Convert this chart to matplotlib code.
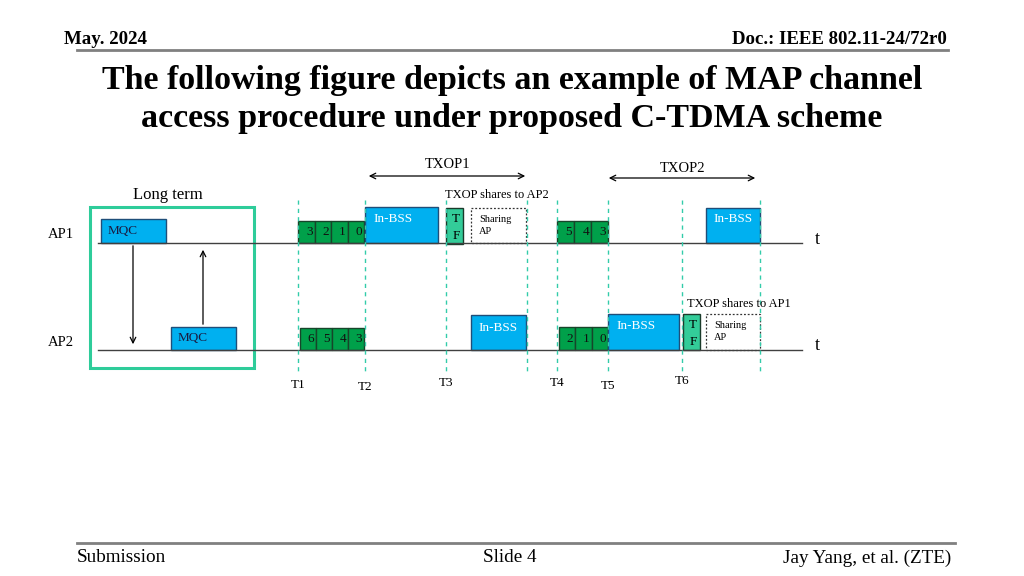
import matplotlib
matplotlib.use("Agg")
import matplotlib.pyplot as plt
from matplotlib.patches import Rectangle

plt.rcParams['font.family'] = ['Liberation Serif', 'DejaVu Serif']

# ---- data (diagram coordinates in slide pixels) ----
header_left = "May. 2024"
header_right = "Doc.: IEEE 802.11-24/72r0"
title_lines = ["The following figure depicts an example of MAP channel",
               "access procedure under proposed C-TDMA scheme"]
footer = ["Submission", "Slide 4", "Jay Yang, et al. (ZTE)"]

t_labels = ["T1", "T2", "T3", "T4", "T5", "T6"]
t_pos = [298, 365, 446, 557, 608, 682]
t_label_y = [385, 387, 383, 383, 386, 381]
extra_dashes = [527, 760]

ap1_backoff_a = ["3", "2", "1", "0"]
ap1_backoff_b = ["5", "4", "3"]
ap2_backoff_a = ["6", "5", "4", "3"]
ap2_backoff_b = ["2", "1", "0"]

BLUE = '#00B0F0'
BLUE_EDGE = '#1F4E79'
GREEN = '#00A04A'
GREEN_EDGE = '#17452A'
TF = '#33CC99'
DASH = '#33CCAA'

fig = plt.figure(figsize=(10.24, 5.76), dpi=100)
ax = fig.add_axes([0, 0, 1, 1])
ax.set_xlim(0, 1024)
ax.set_ylim(576, 0)
ax.axis('off')

# header
ax.text(64, 40, header_left, fontsize=13.6, fontweight='bold', ha='left', va='center')
ax.text(947, 40, header_right, fontsize=13.6, fontweight='bold', ha='right', va='center')
ax.plot([77, 948], [50, 50], color='#808080', lw=2)
ax.text(512, 80, title_lines[0], fontsize=24.5, fontweight='bold', ha='center', va='center')
ax.text(512, 118, title_lines[1], fontsize=24.5, fontweight='bold', ha='center', va='center')

# footer
ax.plot([77, 955], [543, 543], color='#808080', lw=2)
ax.text(77, 557, footer[0], fontsize=13.8, ha='left', va='center')
ax.text(510, 557, footer[1], fontsize=13.8, ha='center', va='center')
ax.text(951, 558, footer[2], fontsize=13.8, ha='right', va='center')

# baselines
y1, y2 = 243, 350
for y, lab in [(y1, "AP1"), (y2, "AP2")]:
    ax.plot([98, 802], [y, y], color='#404040', lw=1)
    ax.text(48, y - 8, lab, fontsize=10.5, ha='left', va='center')
    ax.text(815, y - 4, "t", fontsize=13, ha='left', va='center')

# dashed verticals
for x in t_pos + extra_dashes:
    ax.plot([x, x], [200, 373], color=DASH, lw=1, ls=(0, (3, 3)))
for lab, x, y in zip(t_labels, t_pos, t_label_y):
    ax.text(x, y, lab, fontsize=9.5, ha='center', va='center')

# long-term box
ax.add_patch(Rectangle((90, 207), 164, 161, fill=False, ec='#2ECC9A', lw=2.2))
ax.text(168, 195, "Long term", fontsize=12, ha='center', va='center')

def box(x0, x1, ytop, ybot, fc, ec, lw=1, ls='-', fill=True):
    ax.add_patch(Rectangle((x0, ytop), x1 - x0, ybot - ytop, fc=fc if fill else 'none',
                           ec=ec, lw=lw, ls=ls, fill=fill))

# MQC boxes
box(101, 166, 219, y1, BLUE, BLUE_EDGE)
ax.text(108, 231, "MQC", fontsize=9.5, ha='left', va='center', color='#1a1a40')
box(171, 236, 327, y2, BLUE, BLUE_EDGE)
ax.text(178, 338, "MQC", fontsize=9.5, ha='left', va='center', color='#1a1a40')
ax.annotate("", xy=(133, 347), xytext=(133, y1),
            arrowprops=dict(arrowstyle='->', color='black', lw=0.9))
ax.annotate("", xy=(203, 247), xytext=(203, 327),
            arrowprops=dict(arrowstyle='->', color='black', lw=0.9))

def backoff(labels, x0, x1, ytop, ybot):
    w = (x1 - x0) / len(labels)
    for i, lab in enumerate(labels):
        xa = x0 + i * w
        box(xa, xa + w, ytop, ybot, GREEN, GREEN_EDGE)
        ax.text(xa + w - 2, (ytop + ybot) / 2, lab, fontsize=9.5, ha='right', va='center', color='#111111')

backoff(ap1_backoff_a, 298, 364, 221, y1)
backoff(ap1_backoff_b, 557, 608, 221, y1)
backoff(ap2_backoff_a, 300, 364, 328, y2)
backoff(ap2_backoff_b, 559, 608, 327, y2)

# In-BSS boxes
box(365, 438, 207, y1, BLUE, BLUE_EDGE)
ax.text(373, 219, "In-BSS", fontsize=9.5, ha='left', va='center', color='white')
box(706, 760, 208, y1, BLUE, BLUE_EDGE)
ax.text(733, 219, "In-BSS", fontsize=9.5, ha='center', va='center', color='white')
box(471, 526, 315, y2, BLUE, BLUE_EDGE)
ax.text(498, 328, "In-BSS", fontsize=9.5, ha='center', va='center', color='white')
box(608, 679, 314, y2, BLUE, BLUE_EDGE)
ax.text(616, 326, "In-BSS", fontsize=9.5, ha='left', va='center', color='white')

# TF boxes
for x0, ytop, yb in [(446, 208, 244), (683, 314, y2)]:
    box(x0, x0 + 17, ytop, yb, TF, '#1a3a2a')
    ax.text(x0 + 10, ytop + 11, "T", fontsize=9.5, ha='center', va='center')
    ax.text(x0 + 10, ytop + 28, "F", fontsize=9.5, ha='center', va='center')

# Sharing AP dashed boxes
for x0, x1, ytop, yb in [(471, 526, 208, y1), (706, 760, 314, y2)]:
    box(x0, x1, ytop, yb, 'none', '#333333', lw=0.9, ls=(0, (1.5, 1.5)), fill=False)
    ax.text(x0 + 8, ytop + 11, "Sharing", fontsize=7.5, ha='left', va='center')
    ax.text(x0 + 8, ytop + 23, "AP", fontsize=7.5, ha='left', va='center')

ax.text(497, 195, "TXOP shares to AP2", fontsize=9, ha='center', va='center')
ax.text(739, 304, "TXOP shares to AP1", fontsize=9, ha='center', va='center')

# TXOP arrows
for x0, x1, y, lab, ly in [(366, 528, 176, "TXOP1", 164), (606, 758, 178, "TXOP2", 169)]:
    ax.annotate("", xy=(x0, y), xytext=(x1, y),
                arrowprops=dict(arrowstyle='<->', color='black', lw=0.9))
    ax.text((x0 + x1) / 2 + 1, ly, lab, fontsize=10.5, ha='center', va='center')

fig.savefig("out.png", dpi=100)
